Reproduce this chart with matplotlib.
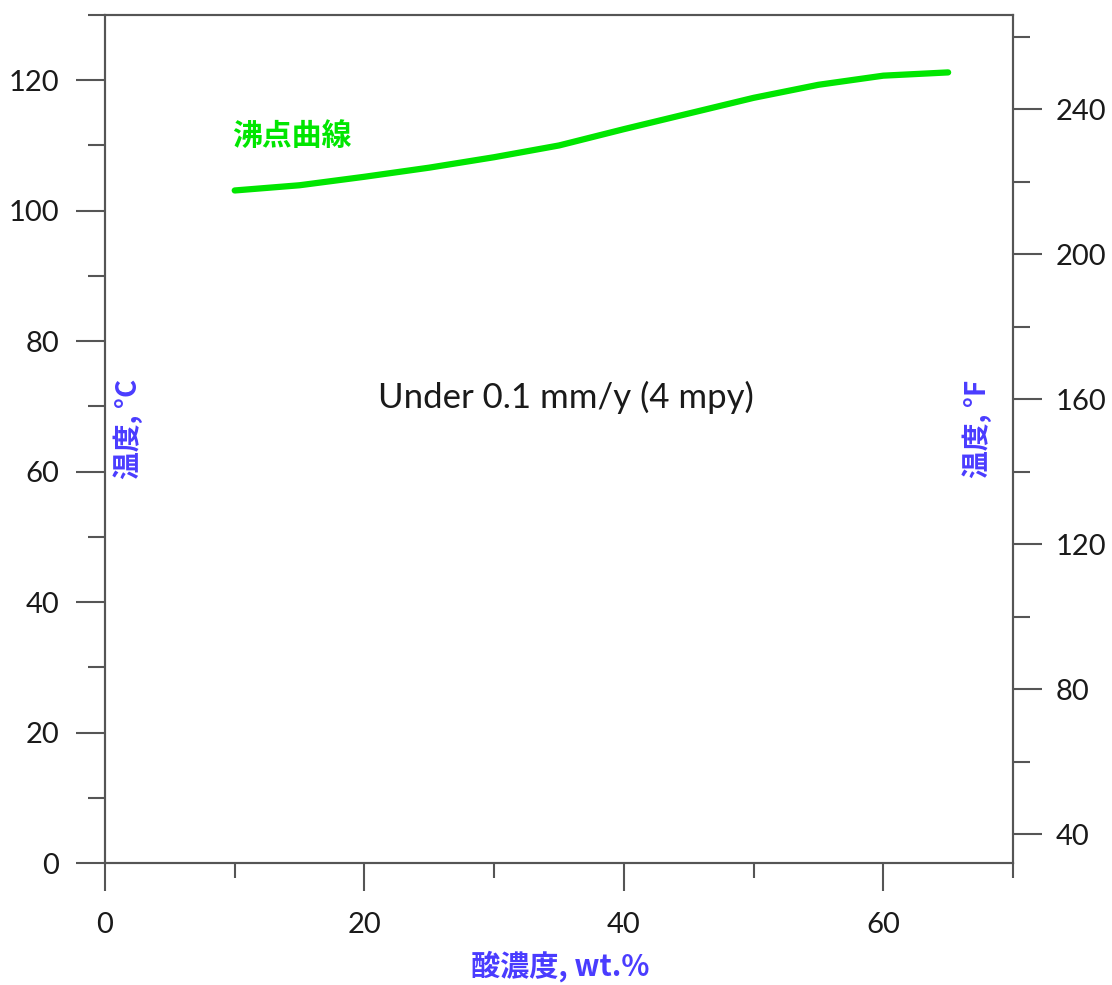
import matplotlib
matplotlib.use("Agg")
import matplotlib.pyplot as plt
import numpy as np

# boiling point curve (acid wt.% vs deg C)
conc = [10, 15, 20, 25, 30, 35, 40, 45, 50, 55, 60, 65]
boil_c = [103.1, 103.9, 105.2, 106.6, 108.2, 110.0, 112.5, 114.9, 117.3, 119.3, 120.7, 121.2]

x_major = [0, 20, 40, 60]
x_minor = [10, 30, 50, 70]
c_major = [0, 20, 40, 60, 80, 100, 120]
c_minor = [10, 30, 50, 70, 90, 110, 130]
f_major = [40, 80, 120, 160, 200, 240]
f_minor = [60, 100, 140, 180, 220, 260]

cjk = ["Noto Sans CJK JP", "DejaVu Sans"]
num_font = "Lato"
blue = "#4a3cff"
green = "#00e600"
spine = "#555555"
tick_txt = "#1a1a1a"


def c2f(c):
    return np.asarray(c) * 9 / 5 + 32


fig = plt.figure(figsize=(11.12, 9.85), dpi=100)
ax = fig.add_axes([105 / 1112, 1 - 863 / 985, 908 / 1112, 848 / 985])
ax.set_xlim(0, 70)
ax.set_ylim(0, 130)

ax.plot(conc, boil_c, color=green, lw=4.5, solid_capstyle="round")

ax.set_xticks(x_major)
ax.set_xticks(x_minor, minor=True)
ax.set_yticks(c_major)
ax.set_yticks(c_minor, minor=True)
ax.tick_params(axis="x", which="major", length=20, width=1.5, color=spine, pad=15,
               labelsize=21, labelcolor=tick_txt)
ax.tick_params(axis="x", which="minor", length=11, width=1.5, color=spine)
ax.tick_params(axis="y", which="major", length=21, width=1.5, color=spine, pad=12,
               labelsize=21, labelcolor=tick_txt)
ax.tick_params(axis="y", which="minor", length=12, width=1.5, color=spine)
for lab in ax.get_xticklabels() + ax.get_yticklabels():
    lab.set_fontfamily(num_font)

for side in ["left", "bottom", "top", "right"]:
    ax.spines[side].set_color(spine)
    ax.spines[side].set_linewidth(1.5)

# right axis in Fahrenheit
ax2 = ax.twinx()
ax2.set_ylim(c2f(0), c2f(130))
ax2.set_yticks(f_major)
ax2.set_yticks(f_minor, minor=True)
ax2.tick_params(axis="y", which="major", length=21, width=1.5, color=spine, pad=10,
                labelsize=21, labelcolor=tick_txt)
ax2.tick_params(axis="y", which="minor", length=12, width=1.5, color=spine)
for lab in ax2.get_yticklabels():
    lab.set_fontfamily(num_font)
for side in ["left", "bottom", "top", "right"]:
    ax2.spines[side].set_color(spine)
    ax2.spines[side].set_linewidth(1.5)

# texts
ax.text(9.8, 111.4, "沸点曲線", color=green, fontsize=21.5, family=cjk,
        weight="bold", ha="left", va="center")
ax.text(35.5, 71.3, "Under 0.1 mm/y (4 mpy)", color="#1a1a1a", fontsize=25,
        family=num_font, ha="center", va="center")
ax.text(1.75, 66.5, "温度, °C", color=blue, fontsize=20, family=cjk,
        weight="bold", rotation=90, ha="center", va="center")
ax.text(67.2, 66.5, "温度, °F", color=blue, fontsize=20, family=cjk,
        weight="bold", rotation=90, ha="center", va="center")
fig.text(560 / 1112, 1 - 966 / 985, "酸濃度, wt.%", color=blue, fontsize=21,
         family=cjk, weight="bold", ha="center", va="center")

fig.savefig("out.png", dpi=100, facecolor="white")
